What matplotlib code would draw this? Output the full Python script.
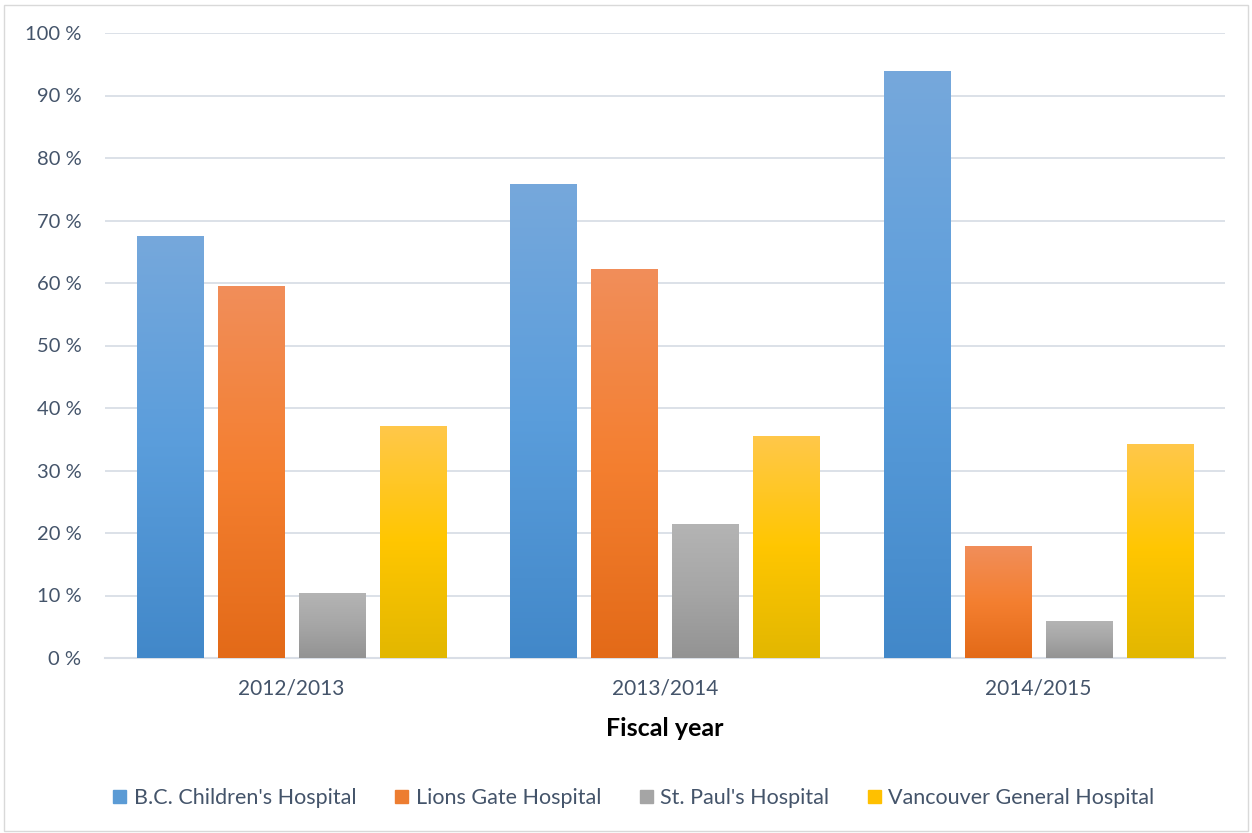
import numpy as np
import matplotlib
matplotlib.use('Agg')
import matplotlib.pyplot as plt
import matplotlib.patches as mpatches
from matplotlib.colors import LinearSegmentedColormap

# data
years = ['2012/2013', '2013/2014', '2014/2015']
hospitals = ["B.C. Children's Hospital", 'Lions Gate Hospital',
             "St. Paul's Hospital", 'Vancouver General Hospital']
bc_childrens = [67.5, 75.7, 93.8]
lions_gate = [59.5, 62.2, 17.8]
st_pauls = [10.4, 21.3, 5.8]
vgh = [37.1, 35.4, 34.1]
yticks = list(range(0, 101, 10))

series = [bc_childrens, lions_gate, st_pauls, vgh]
# gradient colours, bottom -> top
gradients = [
    ['#4288C9', '#5A9DDB', '#76A8DC'],
    ['#E36A18', '#F47F30', '#F18E5A'],
    ['#939393', '#A6A6A6', '#B4B4B4'],
    ['#E2B700', '#FFC600', '#FFC84A'],
]
solid = ['#5B9BD5', '#ED7D31', '#A5A5A5', '#FFC000']
text_col = '#44546A'
grid_col = '#D9DEE6'

plt.rcParams['font.family'] = ['Lato', 'DejaVu Sans']

fig = plt.figure(figsize=(12.52, 8.33), dpi=100)
ax = fig.add_axes([105 / 1252, 1 - 658 / 833, 1120 / 1252, 625 / 833])

# outer chart border
fig.patches.append(mpatches.Rectangle((4 / 1252, 2 / 833), 1244 / 1252, 826 / 833,
                                      transform=fig.transFigure, fill=False,
                                      edgecolor='#D9D9D9', linewidth=1))

x = np.arange(len(years))
width = 0.177
pitch = 0.217
grad = np.linspace(0, 1, 256).reshape(-1, 1)

for i, vals in enumerate(series):
    cmap = LinearSegmentedColormap.from_list('g%d' % i, gradients[i])
    xs = x + (i - 1.5) * pitch
    bars = ax.bar(xs, vals, width, color=solid[i], zorder=2)
    for b in bars:
        x0 = b.get_x()
        h = b.get_height()
        ax.imshow(grad, extent=[x0, x0 + width, 0, h], origin='lower',
                  aspect='auto', cmap=cmap, zorder=3, interpolation='bicubic')

ax.set_xlim(-0.5, 2.5)
ax.set_ylim(0, 100)
ax.set_yticks(yticks)
ax.set_yticklabels(['%d %%' % v for v in yticks])
ax.set_xticks(x)
ax.set_xticklabels(years)
ax.tick_params(axis='y', length=0, labelsize=14.5, colors=text_col, pad=17)
ax.tick_params(axis='x', length=0, labelsize=15, colors=text_col, pad=15)
ax.grid(axis='y', color=grid_col, linewidth=1.3, zorder=0)
ax.set_axisbelow(True)
for s in ['top', 'right', 'left']:
    ax.spines[s].set_visible(False)
ax.spines['bottom'].set_color(grid_col)
ax.spines['bottom'].set_linewidth(1.5)

ax.set_xlabel('Fiscal year', fontsize=18, fontweight='bold', color='black', labelpad=13)

handles = [mpatches.Patch(color=c) for c in solid]
fig.legend(handles, hospitals, loc='center', bbox_to_anchor=(634 / 1252, 1 - 798 / 833),
           ncol=4, frameon=False, fontsize=15.5, labelcolor=text_col,
           handlelength=0.6, handleheight=0.6, handletextpad=0.35, columnspacing=1.8)

fig.savefig('out.png', dpi=100)
